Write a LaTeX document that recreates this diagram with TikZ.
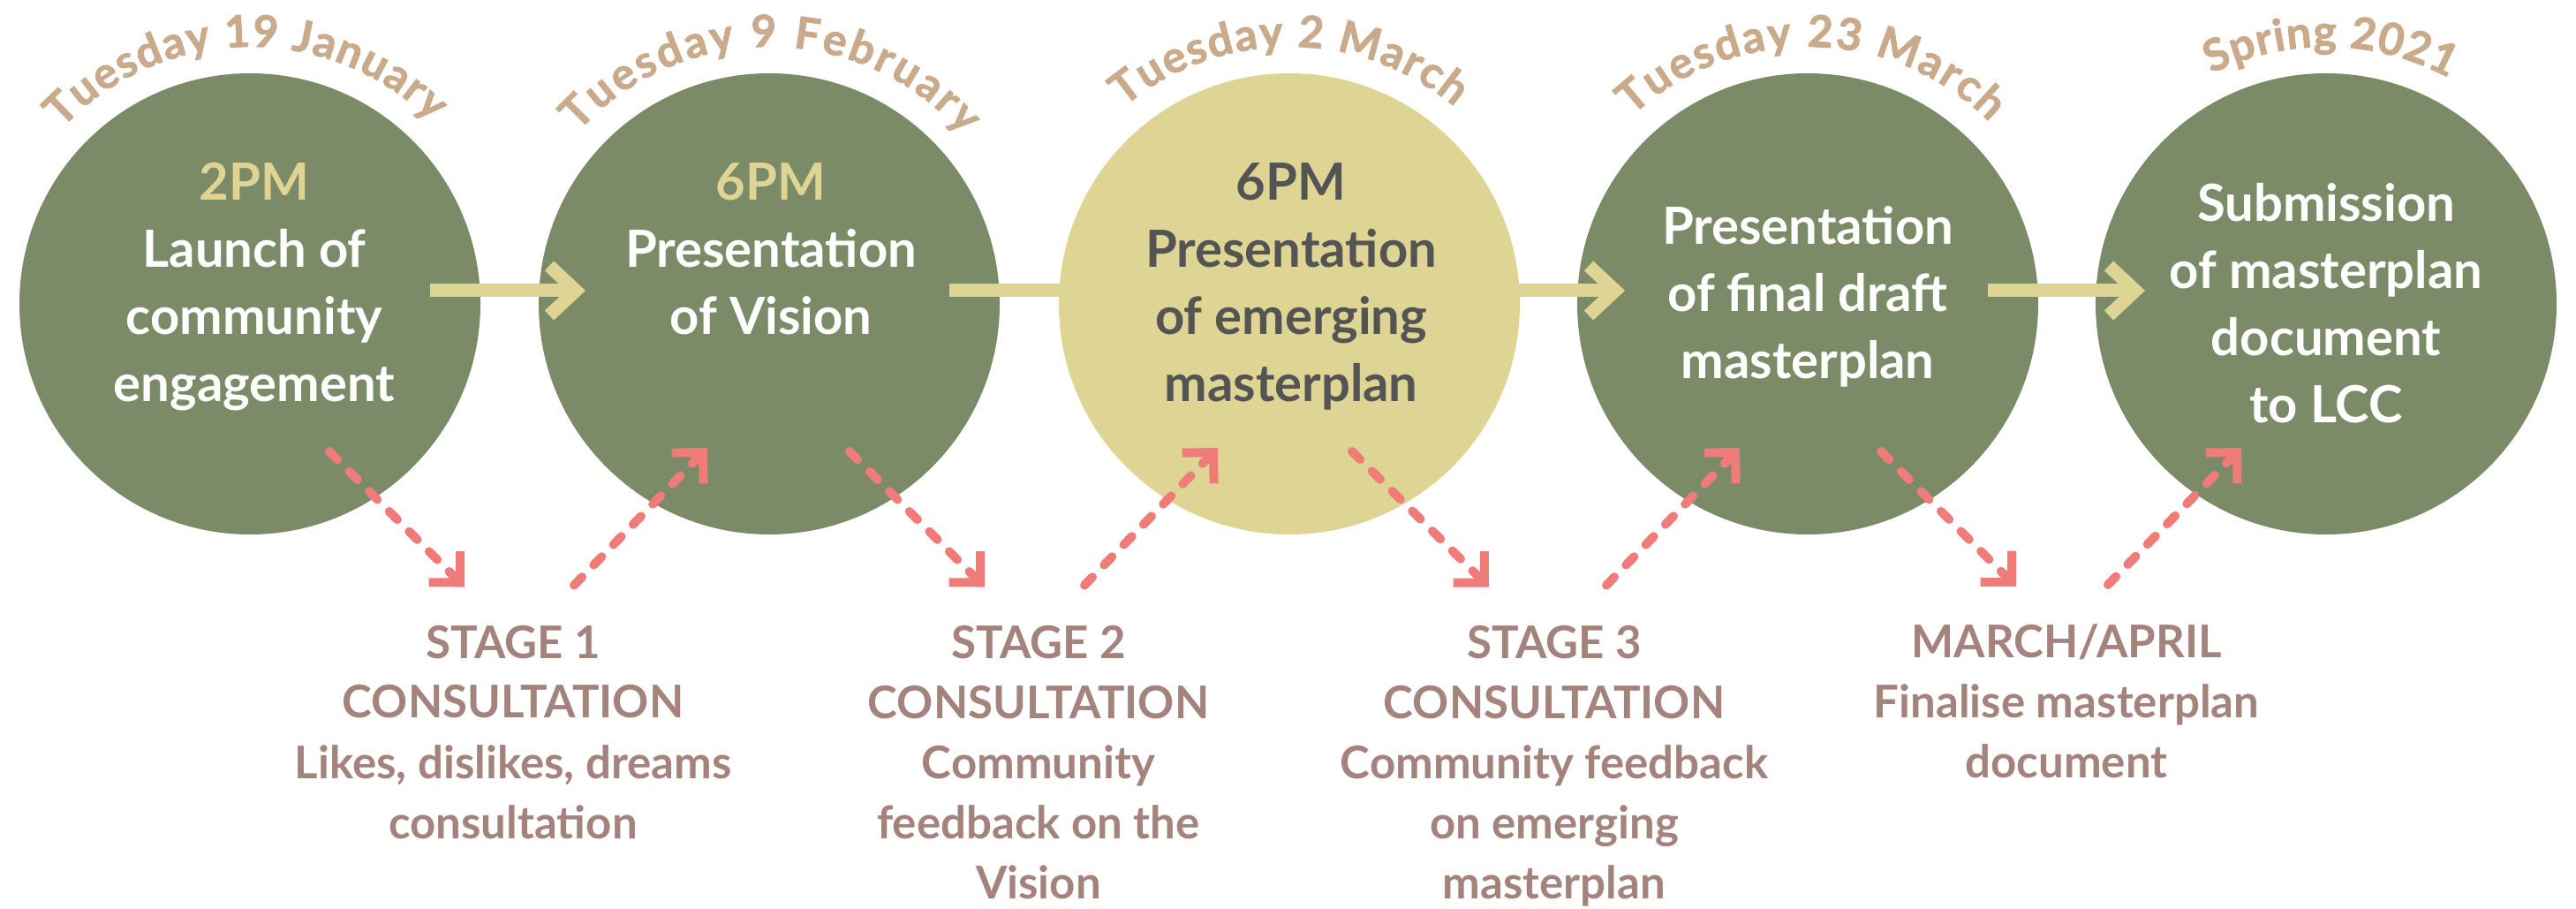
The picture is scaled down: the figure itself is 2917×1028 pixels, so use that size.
\documentclass[tikz,border=0pt]{standalone}
\usepackage{fontspec}
\setmainfont{Lato}
\newfontfamily\datefont{Lato}[BoldFeatures={FakeBold=1.6}]
\usetikzlibrary{arrows.meta,decorations.text}

\definecolor{sage}{HTML}{7B8A67}
\definecolor{straw}{HTML}{DED494}
\definecolor{sand}{HTML}{C9AA8B}
\definecolor{mauve}{HTML}{A5837D}
\definecolor{salmon}{HTML}{EF7C79}
\definecolor{charcoal}{HTML}{545454}

\tikzset{
  event/.style={circle, fill=sage, minimum size=522pt, inner sep=0pt},
  keyevent/.style={event, fill=straw},
  % multi-line nodes: the base anchor sits on the last line
  eventtext/.style={align=center, text=white, inner sep=0pt, anchor=base,
    font=\bfseries\fontsize{58}{76}\selectfont},
  stagetext/.style={align=center, text=mauve, inner sep=0pt, anchor=base,
    font=\bfseries\fontsize{51}{68}\selectfont},
  flow/.style={draw=straw, line width=15pt,
    -{Straight Barb[sharp, length=30pt, width=56pt]}},
  feedback/.style={draw=salmon, line width=10pt, line cap=round,
    dash pattern=on 13pt off 19pt,
    -{Straight Barb[sharp, length=25pt, width=50pt]}},
  datearc/.style={decorate, decoration={text along path, text align={fit to path},
    text color=sand, text={|\datefont\bfseries\fontsize{50}{50}\selectfont|#1}}},
}

\begin{document}
\begin{tikzpicture}[x=1pt, y=1pt]
\useasboundingbox (0,0) rectangle (2917,1028);

% event circles (the highlighted one is drawn after the flow arrows)
\node[event] (c1) at (283,684) {};
\node[event] (c2) at (871,684) {};
\node[event] (c4) at (2047,684) {};
\node[event] (c5) at (2634,684) {};
\coordinate (c3) at (1460,684);

% main timeline arrows
\draw[flow] ([shift={(204,15)}]c1.center) -- ([shift={(-208,15)}]c2.center);
\draw[flow] ([shift={(204,15)}]c2.center) -- ([shift={(-210,15)}]c3);
\draw[flow] ([shift={(190,15)}]c3) -- ([shift={(-207,15)}]c4.center);
\draw[flow] ([shift={(204,15)}]c4.center) -- ([shift={(-205,15)}]c5.center);

\node[keyevent] (c3n) at (c3) {};

% circle texts
\node[eventtext] (t1) at ([shift={(5,-111)}]c1.center)
  {\textcolor{straw}{2PM}\\Launch of\\community\\engagement};
\node[eventtext] (t2) at ([shift={(2,-35)}]c2.center)
  {\textcolor{straw}{6PM}\\Presentation\\of Vision};
\node[eventtext, text=charcoal] (t3) at ([shift={(2,-111)}]c3n.center)
  {6PM\\Presentation\\of emerging\\masterplan};
\node[eventtext] (t4) at ([yshift=-85]c4.center)
  {Presentation\\of final draft\\masterplan};
\node[eventtext] (t5) at ([yshift=-135]c5.center)
  {Submission\\of masterplan\\document\\to LCC};

% dates along arcs
\path[datearc={Tuesday 19 January}]
  ([shift={(137:291)}]c1.center) arc[start angle=137, end angle=45, radius=291];
\path[datearc={Tuesday 9 February}]
  ([shift={(138:291)}]c2.center) arc[start angle=138, end angle=41, radius=291];
\path[datearc={Tuesday 2 March}]
  ([shift={(130:291)}]c3n.center) arc[start angle=130, end angle=50, radius=291];
\path[datearc={Tuesday 23 March}]
  ([shift={(133:291)}]c4.center) arc[start angle=133, end angle=45, radius=291];
\path[datearc={Spring 2021}]
  ([shift={(116.5:291)}]c5.center) arc[start angle=116.5, end angle=61.5, radius=291];

% consultation stages
\node[stagetext] (s1) at (581,79)
  {STAGE 1\\CONSULTATION\\Likes, dislikes, dreams\\consultation};
\node[stagetext] (s2) at (1176,11)
  {STAGE 2\\CONSULTATION\\Community\\feedback on the\\Vision};
\node[stagetext] (s3) at (1760,11)
  {STAGE 3\\CONSULTATION\\Community feedback\\on emerging\\masterplan};
\node[stagetext] (s4) at (2340,147)
  {MARCH/APRIL\\Finalise masterplan\\document};

% feedback loops
\draw[feedback] ([shift={(90,-167)}]c1.center) -- ([shift={(-55,43)}]s1.north);
\draw[feedback] ([shift={(69,45)}]s1.north) -- ([shift={(-70,-163)}]c2.center);
\draw[feedback] ([shift={(91,-167)}]c2.center) -- ([shift={(-61,43)}]s2.north);
\draw[feedback] ([shift={(52,45)}]s2.north) -- ([shift={(-81,-163)}]c3n.center);
\draw[feedback] ([shift={(71,-167)}]c3n.center) -- ([shift={(-74,43)}]s3.north);
\draw[feedback] ([shift={(59,45)}]s3.north) -- ([shift={(-77,-163)}]c4.center);
\draw[feedback] ([shift={(83,-167)}]c4.center) -- ([shift={(-57,43)}]s4.north);
\draw[feedback] ([shift={(47,45)}]s4.north) -- ([shift={(-96,-163)}]c5.center);
\end{tikzpicture}
\end{document}
